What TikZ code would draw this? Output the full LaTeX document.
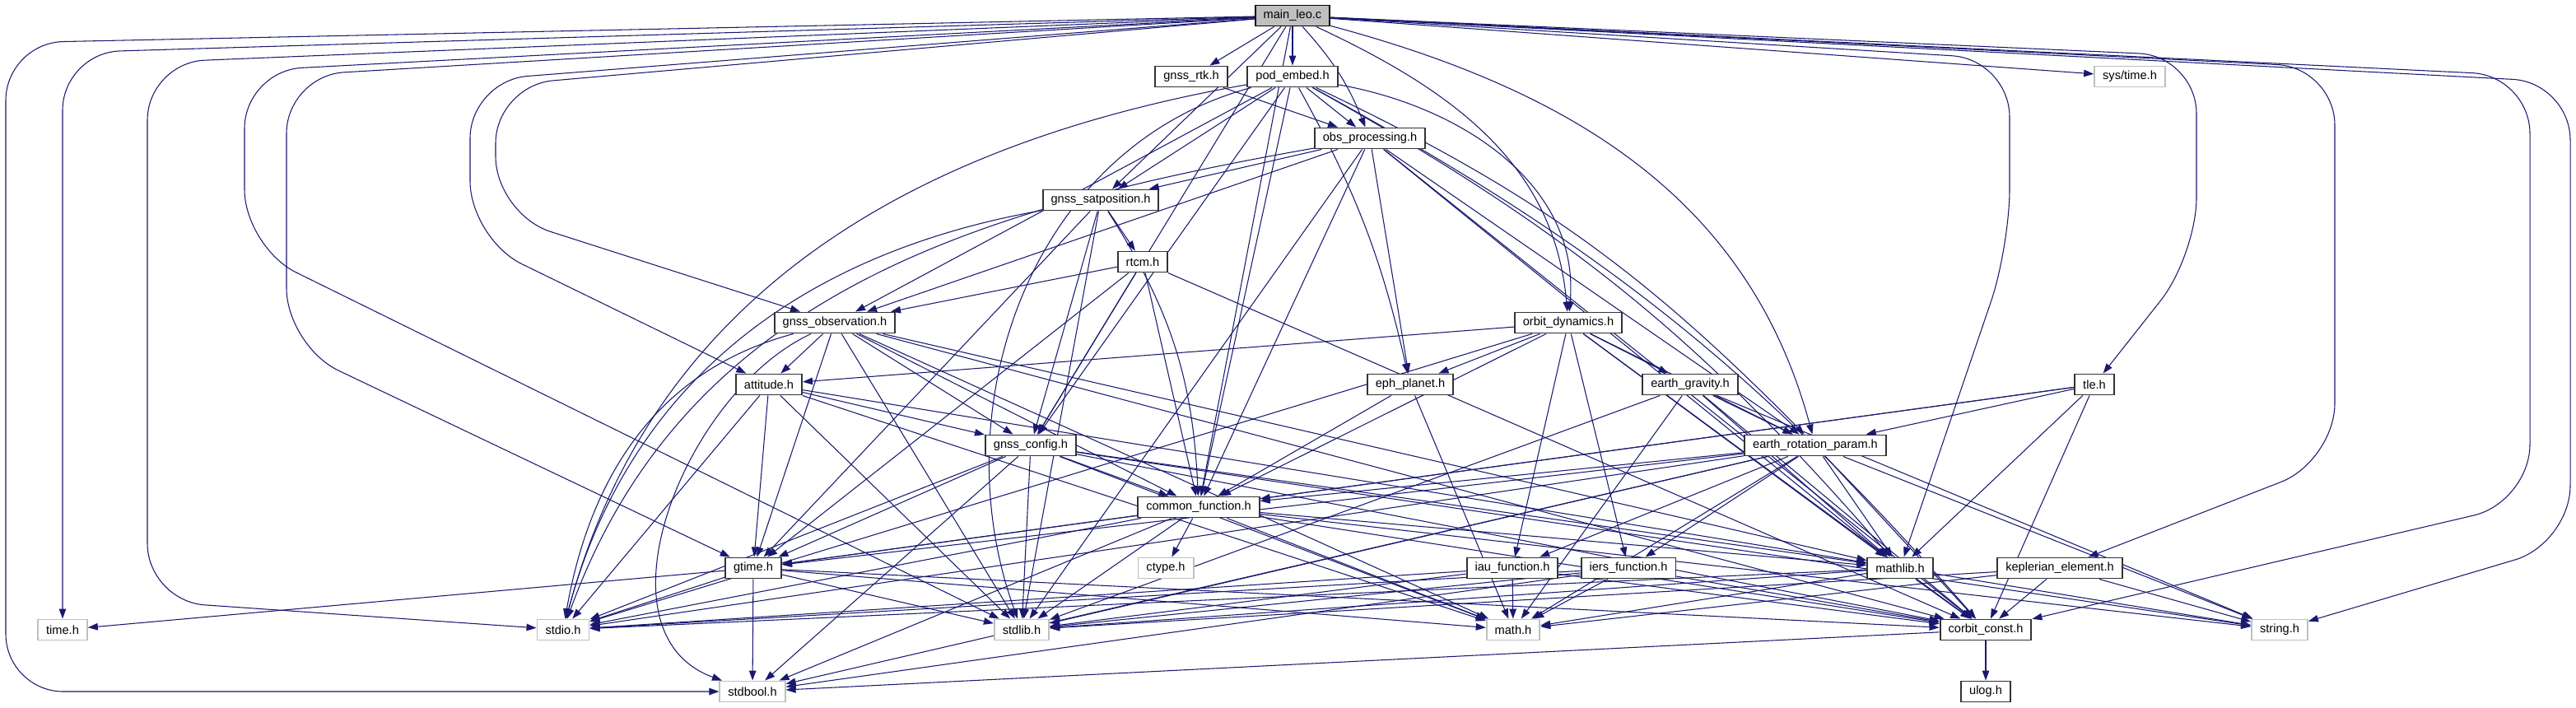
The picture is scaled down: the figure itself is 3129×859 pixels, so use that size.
\documentclass[tikz,border=0pt]{standalone}
\usepackage{fontspec}
\setmainfont{Liberation Sans}
\usepackage{xcolor}
\usetikzlibrary{arrows.meta, backgrounds}
\definecolor{depblue}{HTML}{191970}
\definecolor{sysgray}{HTML}{BFBFBF}
\newcommand{\depfont}{\fontsize{4.15}{5}\selectfont}
\tikzset{
  hdr/.style={draw=black!80, fill=white, line width=0.55pt, font=\depfont,
    inner xsep=0.1cm, inner ysep=0pt, minimum height=0.25cm},
  syshdr/.style={hdr, draw=sysgray},
  roothdr/.style={hdr, draw=black, fill=sysgray},
  dep/.style={draw=depblue, line width=0.3pt, -{Triangle[length=0.12cm, width=0.085cm]}},
  route/.style={dep, rounded corners=0.7cm},
}

\begin{document}
\begin{tikzpicture}[x=0.01cm, y=-0.01cm]
\useasboundingbox (0,0) rectangle (3129,859);
\node[roothdr] (main) at (1570,19) {main\_leo.c};
\node[hdr] (rtk) at (1447,93) {gnss\_rtk.h};
\node[hdr] (pod) at (1570,93) {pod\_embed.h};
\node[syshdr] (systime) at (2587,93) {sys/time.h};
\node[hdr] (obsp) at (1664,168) {obs\_processing.h};
\node[hdr] (satpos) at (1337,243) {gnss\_satposition.h};
\node[hdr] (rtcm) at (1388,318) {rtcm.h};
\node[hdr] (obs) at (1014,392) {gnss\_observation.h};
\node[hdr] (orbit) at (1905,392) {orbit\_dynamics.h};
\node[hdr] (att) at (934,467) {attitude.h};
\node[hdr] (eph) at (1713,467) {eph\_planet.h};
\node[hdr] (grav) at (2053,467) {earth\_gravity.h};
\node[hdr] (tle) at (2544,467) {tle.h};
\node[hdr] (cfg) at (1252,541) {gnss\_config.h};
\node[hdr] (erp) at (2205,541) {earth\_rotation\_param.h};
\node[hdr] (cf) at (1456,616) {common\_function.h};
\node[hdr] (gtime) at (915,690) {gtime.h};
\node[syshdr] (ctype) at (1416,690) {ctype.h};
\node[hdr] (iau) at (1837,690) {iau\_function.h};
\node[hdr] (iers) at (1978,690) {iers\_function.h};
\node[hdr] (mathlib) at (2308,690) {mathlib.h};
\node[hdr] (kep) at (2502,690) {keplerian\_element.h};
\node[syshdr] (time) at (76,765) {time.h};
\node[syshdr] (stdio) at (684,765) {stdio.h};
\node[syshdr] (stdlib) at (1241,765) {stdlib.h};
\node[syshdr] (math) at (1838,765) {math.h};
\node[hdr] (corbit) at (2412,765) {corbit\_const.h};
\node[syshdr] (string) at (2769,765) {string.h};
\node[syshdr] (stdbool) at (914,840) {stdbool.h};
\node[hdr] (ulog) at (2412,840) {ulog.h};

\begin{scope}[on background layer, every edge/.style={dep}]
\fill[white] (0,0) rectangle (3129,859);
\path (main) edge (rtk) edge (pod) edge[bend left=10] (obsp) edge (satpos)
  edge (cfg) edge[out=-25, in=95] (orbit) edge[out=-15, in=105] (erp)
  edge (cf) edge (systime);
\draw[route] (main) -- (7,52) -- (7,840) -- (stdbool);
\draw[route] (main) -- (76,64) -- (time);
\draw[route] (main) -- (179,76) -- (179,730) -- (stdio);
\draw[route] (main) -- (297,86) -- (297,300) -- (stdlib);
\draw[route] (main) -- (348,92) -- (348,420) -- (gtime);
\draw[route] (main) -- (571,98) -- (571,290) -- (att);
\draw[route] (main) -- (602,104) -- (602,260) -- (obs);
\draw[route] (main) -- (2441,72) -- (2441,300) -- (mathlib);
\draw[route] (main) -- (2668,68) -- (2668,310) -- (tle);
\draw[route] (main) -- (2836,82) -- (2836,560) -- (kep);
\draw[route] (main) -- (3073,92) -- (3073,610) -- (corbit);
\draw[route] (main) -- (3122,100) -- (3122,660) -- (string);
\path (rtk) edge (obsp);
\path (pod) edge (obsp) edge (satpos) edge (obs) edge (cfg) edge (cf)
  edge[bend left=8] (eph) edge[out=-10, in=85] (orbit) edge[bend left=10] (erp)
  edge[bend left=10] (mathlib) edge[bend left=10] (corbit)
  edge[out=190, in=75] (stdio) edge[out=195, in=110] (stdlib);
\path (obsp) edge (satpos) edge (obs) edge (cf) edge (stdlib) edge[out=190, in=70] (stdio)
  edge (eph) edge (erp) edge (mathlib) edge (corbit);
\path (satpos) edge (rtcm) edge (cfg) edge[bend left=15] (cf) edge (gtime)
  edge[out=190, in=75] (stdio) edge (stdlib);
\path (rtcm) edge (obs) edge (cfg) edge (cf) edge (gtime) edge (corbit);
\path (obs) edge (att) edge (cfg) edge (cf) edge (gtime) edge[out=195, in=80] (stdio)
  edge (stdlib) edge (math) edge[out=205, in=160] (stdbool) edge (mathlib) edge (corbit);
\path (att) edge (cfg) edge (gtime) edge (stdio) edge (stdlib) edge (math) edge (mathlib);
\path (orbit) edge (att) edge (eph) edge (grav) edge (erp) edge (cf) edge (iau)
  edge (iers) edge (mathlib) edge (corbit) edge (stdio);
\path (eph) edge (cf) edge (math);
\path (grav) edge (erp) edge (mathlib) edge (corbit) edge (string) edge (stdlib) edge (math);
\path (tle) edge (erp) edge (cf) edge (gtime) edge (mathlib) edge (corbit);
\path (cfg) edge (cf) edge (gtime) edge (stdio) edge (stdlib) edge (math)
  edge (stdbool) edge (string) edge (corbit) edge (mathlib);
\path (erp) edge (cf) edge (gtime) edge (iau) edge (iers) edge (mathlib) edge (corbit)
  edge (math) edge (stdio) edge (stdlib) edge (stdbool) edge (string);
\path (cf) edge (gtime) edge (ctype) edge (stdio) edge (stdlib) edge (math)
  edge (mathlib) edge (corbit) edge (string) edge (stdbool);
\path (gtime) edge (time) edge (stdio) edge (stdlib) edge (stdbool) edge (math) edge (corbit);
\path (iau) edge (math) edge (stdio) edge (stdlib) edge (corbit);
\path (iers) edge (math) edge (stdio) edge (stdlib) edge (stdbool) edge (corbit);
\path (mathlib) edge (corbit) edge (stdio) edge (stdlib) edge (math) edge (string);
\path (kep) edge (corbit) edge (math) edge (string) edge (stdlib);
\path (corbit) edge (ulog) edge (stdbool);
\end{scope}
\end{tikzpicture}
\end{document}
